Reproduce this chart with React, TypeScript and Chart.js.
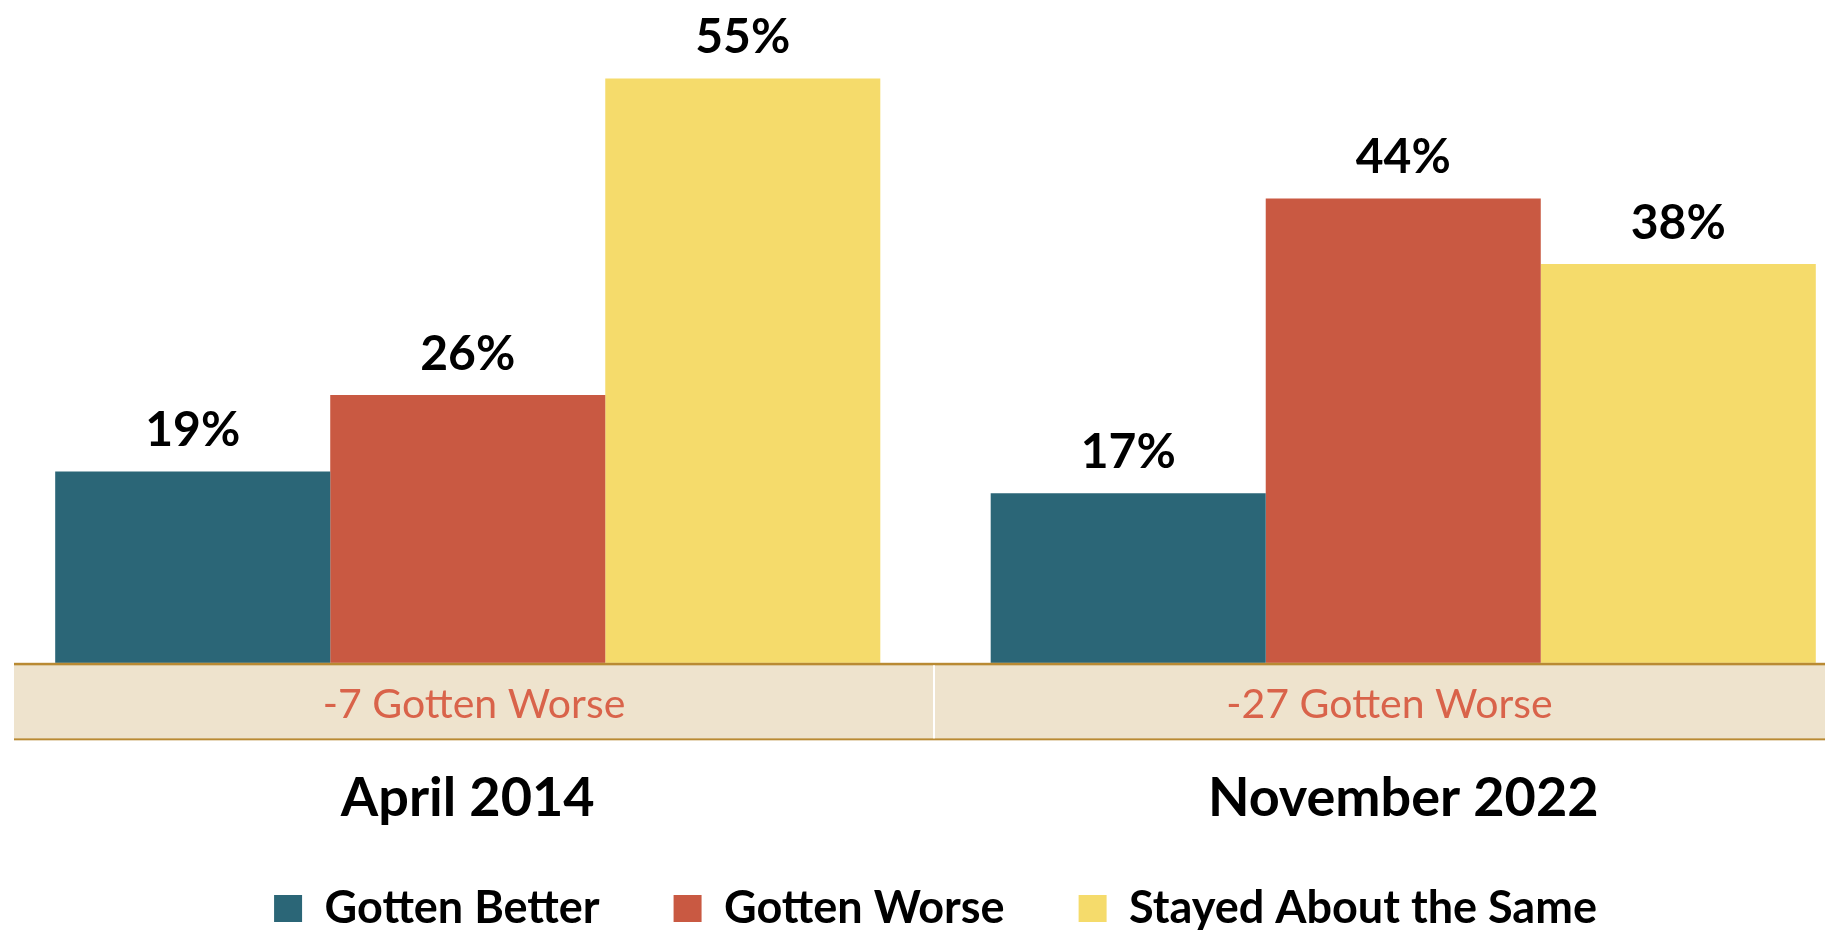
import { useEffect, useRef } from "react";
import { Chart, registerables } from "chart.js";

Chart.register(...registerables);

// ---- data ----
const categories = ["April 2014", "November 2022"];
const seriesNames = ["Gotten Better", "Gotten Worse", "Stayed About the Same"];
const gottenBetter = [19, 17];
const gottenWorse = [26, 44];
const stayedSame = [55, 38];
const seriesColors = ["#2B6677", "#C95942", "#F5DB6B"];

const CANVAS_W = 1871;
const CANVAS_H = 941;

export default function App() {
  const ref = useRef<HTMLCanvasElement | null>(null);

  useEffect(() => {
    const canvas = ref.current;
    if (!canvas) return;

    const overlayPlugin = {
      id: "overlay",
      afterDatasetsDraw(chart: any) {
        const ctx = chart.ctx as CanvasRenderingContext2D;
        const xs = chart.scales.x;
        const ys = chart.scales.y;
        const area = chart.chartArea;
        const zero = ys.getPixelForValue(0);
        const left = area.left + 14;
        const right = area.right - 26;
        const bandTop = zero - 16;
        const bandBottom = zero + 59.5;
        const mid = (xs.getPixelForValue(0) + xs.getPixelForValue(1)) / 2 - 1.5;

        ctx.save();
        // band fill
        ctx.fillStyle = "#EEE3CD";
        ctx.fillRect(left, bandTop, area.right - left, bandBottom - bandTop);
        // gold rules
        ctx.fillStyle = "#B98A33";
        ctx.fillRect(left, bandTop, area.right - left, 2.5);
        ctx.fillRect(left, bandBottom, area.right - left, 2);
        // white divider
        ctx.fillStyle = "#FFFFFF";
        ctx.fillRect(mid - 1, bandTop + 2.5, 2, bandBottom - bandTop - 2.5);

        // band texts (difference better - worse)
        ctx.font = "41px Lato";
        ctx.fillStyle = "#D9634A";
        ctx.textAlign = "center";
        ctx.textBaseline = "alphabetic";
        const cells = [
          [left, mid],
          [mid, right],
        ];
        categories.forEach((_, i) => {
          const diff = gottenBetter[i] - gottenWorse[i];
          const cx = (cells[i][0] + cells[i][1]) / 2;
          ctx.fillText(`${diff} Gotten Worse`, cx, zero + 39);
        });

        // category labels
        ctx.font = "bold 54px Lato";
        ctx.fillStyle = "#000000";
        categories.forEach((c, i) => {
          ctx.fillText(c, xs.getPixelForValue(i), zero + 137);
        });

        // value labels
        ctx.font = "bold 48px Lato";
        chart.data.datasets.forEach((ds: any, di: number) => {
          const meta = chart.getDatasetMeta(di);
          meta.data.forEach((el: any, i: number) => {
            ctx.fillText(`${ds.data[i]}%`, el.x, el.y - 25);
          });
        });
        ctx.restore();
      },
    };

    const chart = new Chart(canvas, {
      type: "bar",
      data: {
        labels: categories,
        datasets: [
          { label: seriesNames[0], data: gottenBetter, backgroundColor: seriesColors[0] },
          { label: seriesNames[1], data: gottenWorse, backgroundColor: seriesColors[1] },
          { label: seriesNames[2], data: stayedSame, backgroundColor: seriesColors[2] },
        ],
      },
      options: {
        responsive: false,
        animation: false,
        devicePixelRatio: 1,
        layout: { padding: { top: 2, left: 0, right: 0, bottom: 0 } },
        datasets: {
          bar: { categoryPercentage: 0.882, barPercentage: 1, borderWidth: 0 },
        },
        scales: {
          x: { display: false, offset: true },
          y: { display: false, min: -12.2, max: 62 },
        },
        plugins: {
          tooltip: { enabled: false },
          legend: {
            display: true,
            position: "bottom",
            labels: {
              color: "#000000",
              font: { family: "Lato", size: 45, weight: "bold" },
              boxWidth: 28,
              boxHeight: 27,
              padding: 74,
            },
          },
        },
      },
      plugins: [overlayPlugin],
    });

    return () => chart.destroy();
  }, []);

  return (
    <div
      style={{
        position: "absolute",
        left: 0,
        top: 0,
        width: 1825,
        height: 930,
        overflow: "hidden",
        background: "#FFFFFF",
      }}
    >
      <canvas
        ref={ref}
        width={CANVAS_W}
        height={CANVAS_H}
        style={{ display: "block", width: CANVAS_W, height: CANVAS_H }}
      />
    </div>
  );
}
